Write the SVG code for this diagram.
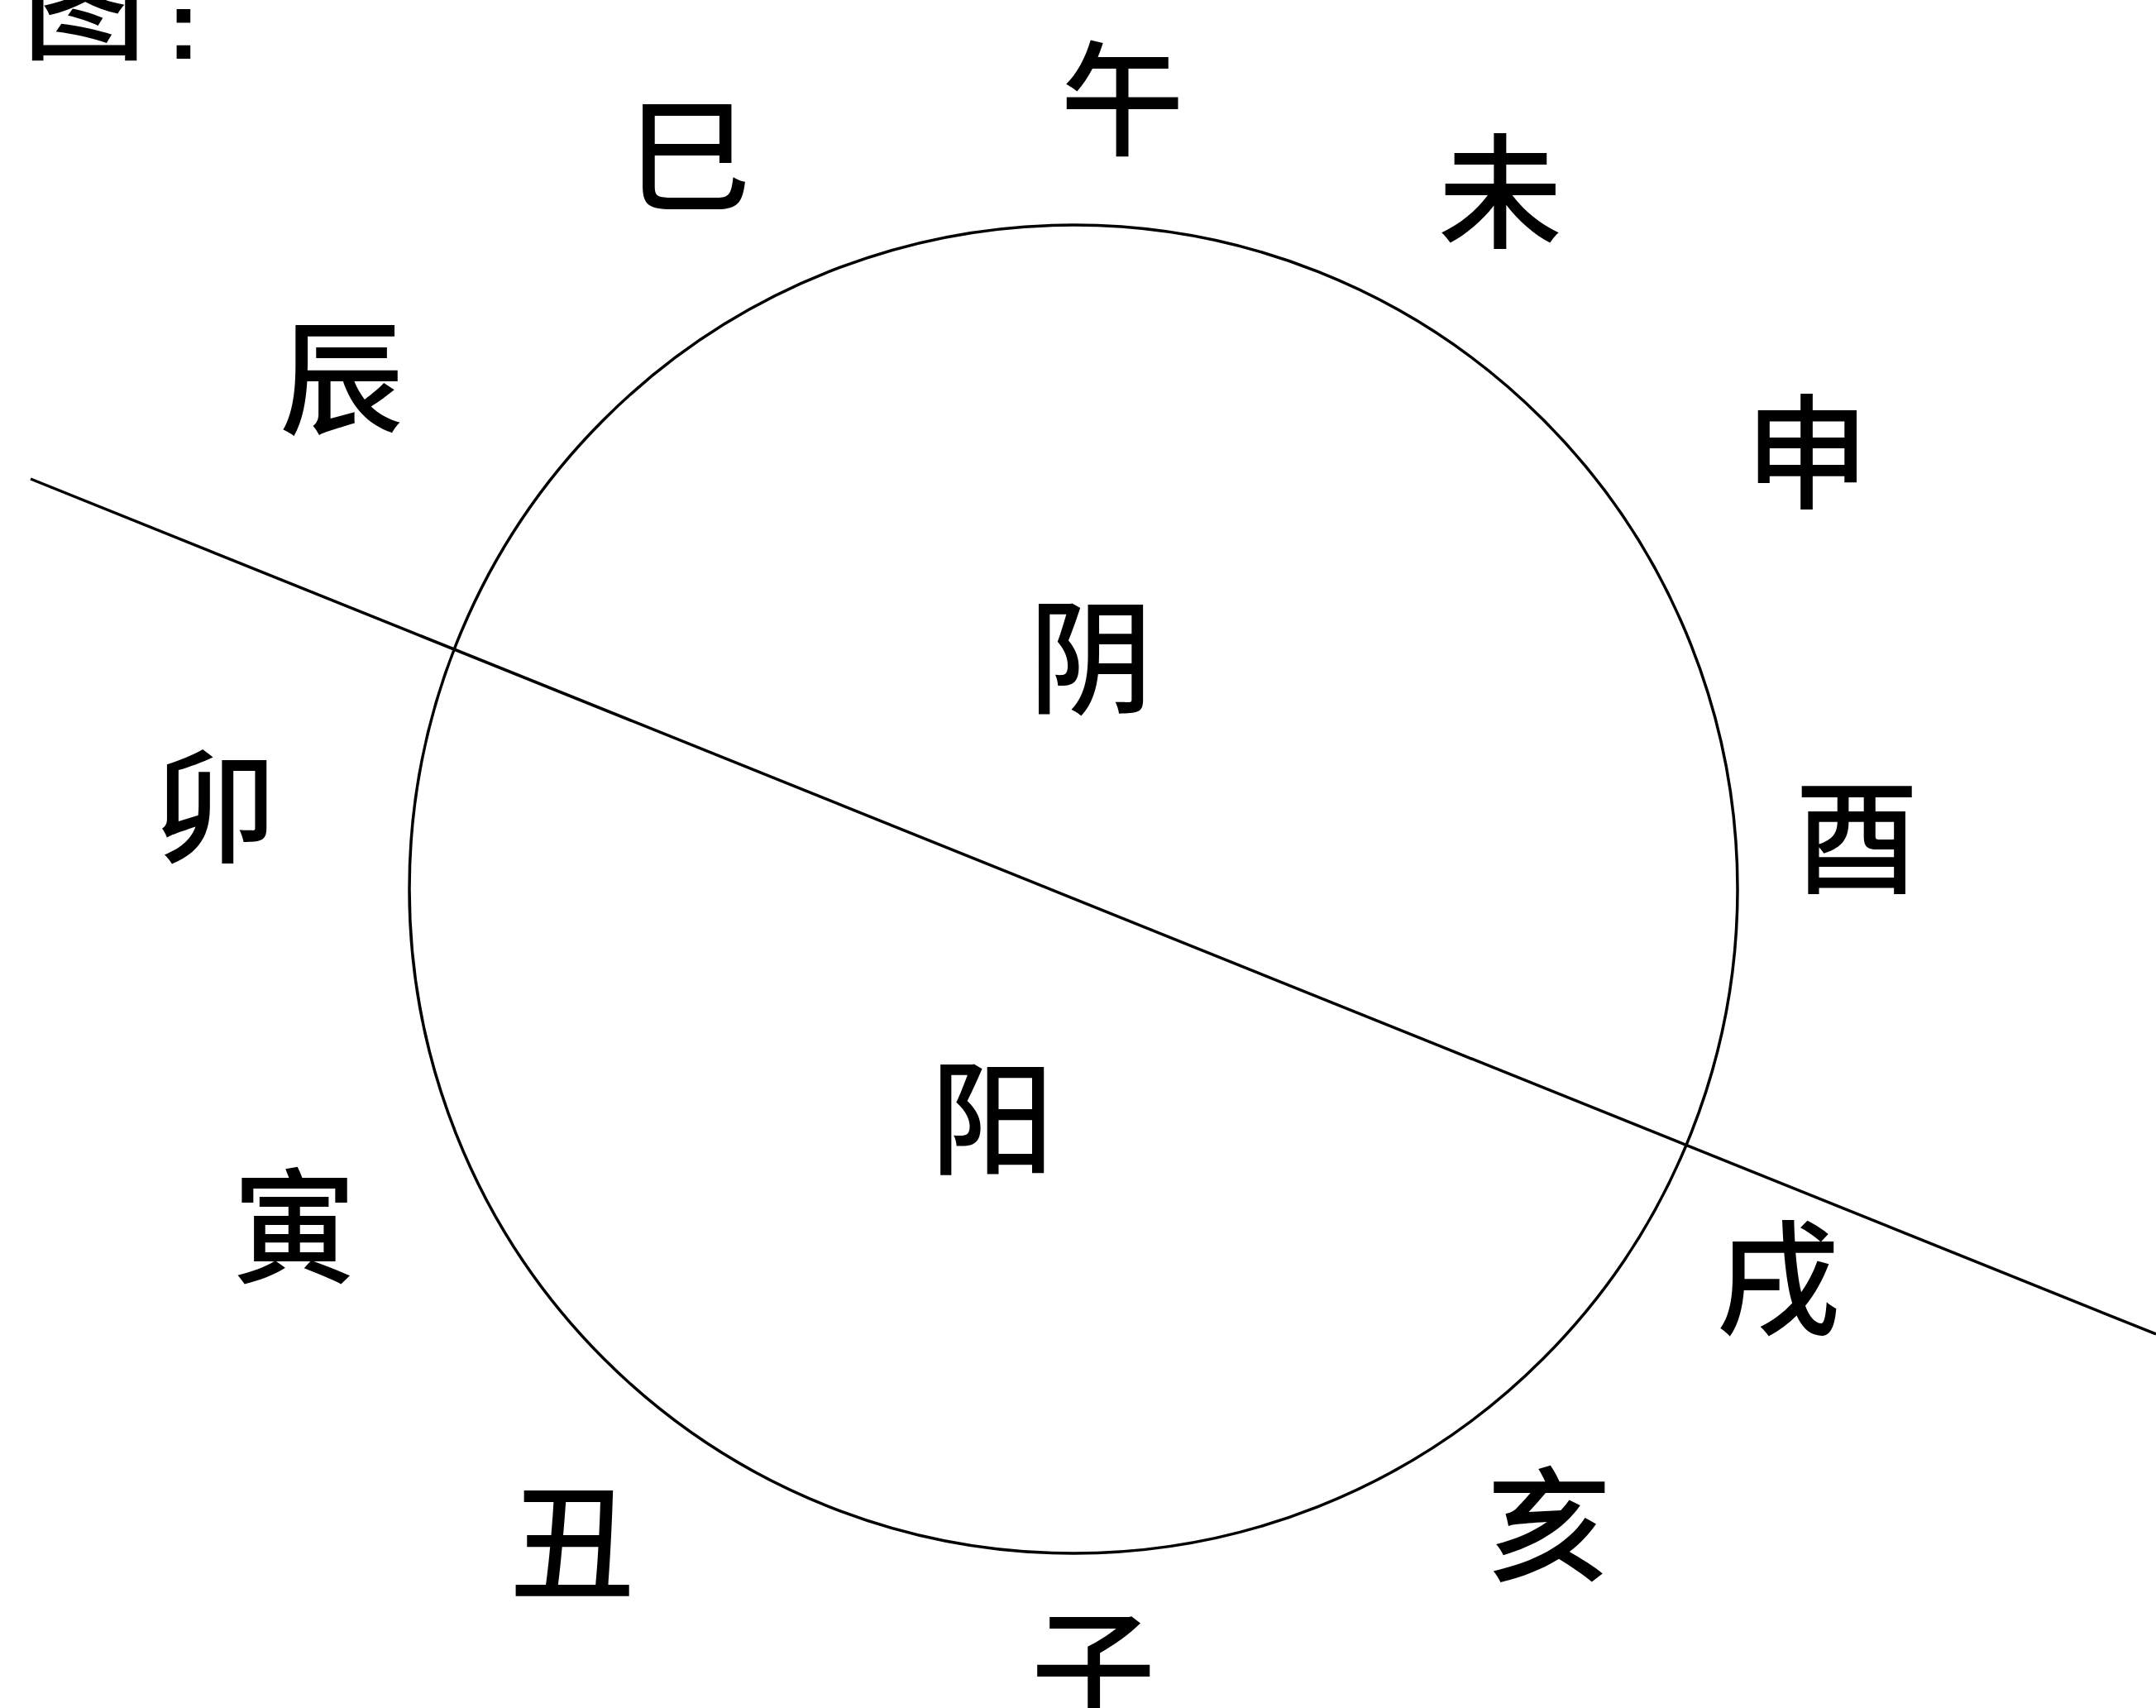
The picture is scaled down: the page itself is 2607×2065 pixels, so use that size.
<svg xmlns="http://www.w3.org/2000/svg" width="2607" height="2065" viewBox="0 0 2607 2065">
<style>
.t{font-family:"Noto Sans CJK SC","Noto Sans CJK TC",sans-serif;font-size:150px;font-weight:500;fill:#000;text-anchor:middle}
.s{fill:none;stroke:#000;stroke-width:3.5}
</style>
<rect width="2607" height="2065" fill="#fff"/>
<g id="title"><text class="t" x="102" y="60">图</text><text x="222" y="71" style="font-family:'Liberation Sans',sans-serif;font-size:118px;font-weight:bold;text-anchor:middle">:</text></g>
<g id="circle"><circle class="s" cx="1298" cy="1075" r="803"/></g>
<g id="connectors"><line class="s" x1="37" y1="579" x2="2607" y2="1613"/></g>
<g id="n-wu"><text class="t" x="1357" y="176">午</text></g>
<g id="n-si"><text class="t" x="833" y="244">巳</text></g>
<g id="n-wei"><text class="t" x="1814" y="288">未</text></g>
<g id="n-chen"><text class="t" x="413" y="513">辰</text></g>
<g id="n-shen"><text class="t" x="2185" y="603">申</text></g>
<g id="n-yin-dark"><text class="t" x="1319" y="851">阴</text></g>
<g id="n-mao"><text class="t" x="260" y="1031">卯</text></g>
<g id="n-you"><text class="t" x="2245" y="1068">酉</text></g>
<g id="n-yang"><text class="t" x="1200" y="1408">阳</text></g>
<g id="n-yin"><text class="t" x="356" y="1539">寅</text></g>
<g id="n-xu"><text class="t" x="2150" y="1602">戌</text></g>
<g id="n-chou"><text class="t" x="692" y="1921">丑</text></g>
<g id="n-hai"><text class="t" x="1873" y="1900">亥</text></g>
<g id="n-zi"><text class="t" x="1322" y="2073">子</text></g>
</svg>
